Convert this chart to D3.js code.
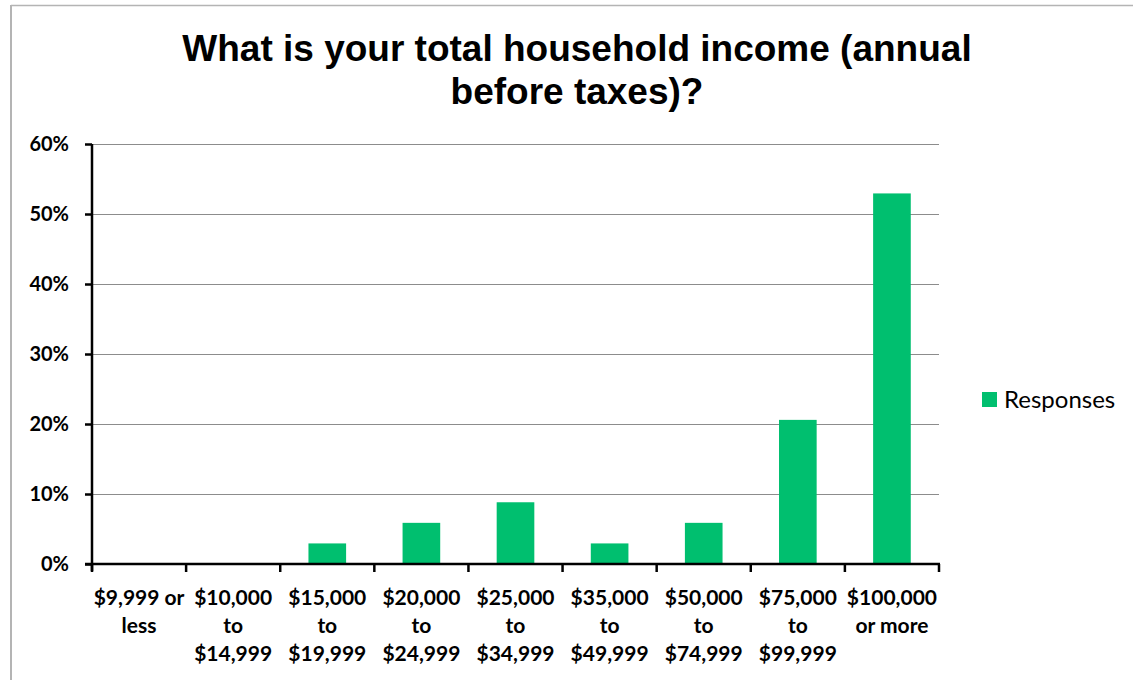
<!DOCTYPE html>
<html>
<head>
<meta charset="utf-8">
<script src="https://cdn.jsdelivr.net/npm/d3@7"></script>
<style>
  html, body { margin: 0; padding: 0; background: #ffffff; }
  svg { display: block; }
</style>
</head>
<body>
<svg id="chart" width="1133" height="680"></svg>
<script>
// Household income survey: share of responses per income bracket
const titleLines = ["What is your total household income (annual", "before taxes)?"];
const categories = [
  "$9,999 or less",
  "$10,000 to $14,999",
  "$15,000 to $19,999",
  "$20,000 to $24,999",
  "$25,000 to $34,999",
  "$35,000 to $49,999",
  "$50,000 to $74,999",
  "$75,000 to $99,999",
  "$100,000 or more"
];
const responses = [0, 0, 0.0294, 0.0588, 0.0882, 0.0294, 0.0588, 0.2059, 0.5294];
const yTicks = [0, 0.1, 0.2, 0.3, 0.4, 0.5, 0.6];
const seriesName = "Responses";

const svg = d3.select("#chart");
const W = 1133, H = 680;
const plot = { left: 92, right: 939, top: 144, bottom: 564 };
const barColor = "#00bf6f";
const labelFont = "Lato, 'Open Sans', sans-serif";
const catFontSize = 21;

svg.append("rect").attr("width", W).attr("height", H).attr("fill", "#ffffff");

// outer chart frame (only the top and left edges fall inside the view)
svg.append("line").attr("x1", 11).attr("x2", W).attr("y1", 5.5).attr("y2", 5.5)
  .attr("stroke", "#b4b4b4").attr("stroke-width", 1.5);
svg.append("line").attr("x1", 11).attr("x2", 11).attr("y1", 5).attr("y2", H)
  .attr("stroke", "#b4b4b4").attr("stroke-width", 2);

// title
svg.append("text")
  .attr("x", 577).attr("y", 61)
  .attr("text-anchor", "middle")
  .attr("font-family", "'Liberation Sans', Arial, sans-serif")
  .attr("font-weight", "bold")
  .attr("font-size", 37)
  .attr("fill", "#000")
  .selectAll("tspan").data(titleLines).join("tspan")
  .attr("x", 577).attr("dy", (d, i) => i === 0 ? 0 : 43)
  .text(d => d);

// scales
const x = d3.scaleBand().domain(categories)
  .range([plot.left, plot.right]).paddingInner(0.6).paddingOuter(0.3);
const y = d3.scaleLinear().domain([0, 0.6]).range([plot.bottom, plot.top]);

// gridlines
svg.append("g").selectAll("line").data(yTicks.filter(t => t > 0)).join("line")
  .attr("x1", plot.left).attr("x2", plot.right)
  .attr("y1", d => y(d) + 0.5).attr("y2", d => y(d) + 0.5)
  .attr("stroke", "#8c8c8c").attr("stroke-width", 1);

// bars
svg.append("g").selectAll("rect").data(categories).join("rect")
  .attr("x", d => x(d))
  .attr("width", x.bandwidth())
  .attr("y", (d, i) => y(responses[i]))
  .attr("height", (d, i) => y(0) - y(responses[i]))
  .attr("fill", barColor);

// y axis
const yAxis = svg.append("g")
  .attr("transform", `translate(${plot.left},0)`)
  .call(d3.axisLeft(y).tickValues(yTicks).tickFormat(d3.format(".0%")).tickSize(7).tickPadding(16));
yAxis.select(".domain").attr("stroke", "#000").attr("stroke-width", 2.5)
  .attr("d", `M0,${plot.top}V${plot.bottom + 7}`);
yAxis.selectAll(".tick line").attr("stroke", "#000").attr("stroke-width", 2.5);
yAxis.selectAll(".tick text")
  .attr("font-family", labelFont).attr("font-weight", "bold")
  .attr("font-size", 20).attr("fill", "#000");

// x axis with ticks at category boundaries
const step = x.step();
const boundaries = d3.range(categories.length + 1).map(i => plot.left + i * step);
const xAxis = svg.append("g");
xAxis.append("line")
  .attr("x1", plot.left - 7).attr("x2", plot.right + 1)
  .attr("y1", plot.bottom).attr("y2", plot.bottom)
  .attr("stroke", "#000").attr("stroke-width", 2.5);
xAxis.selectAll("line.tk").data(boundaries).join("line").attr("class", "tk")
  .attr("x1", d => d).attr("x2", d => d)
  .attr("y1", plot.bottom).attr("y2", plot.bottom + 8)
  .attr("stroke", "#000").attr("stroke-width", 2.5);

// wrapped category labels
const measure = svg.append("text")
  .attr("font-family", labelFont).attr("font-weight", "bold").attr("font-size", catFontSize)
  .attr("visibility", "hidden");
function wrapLines(str, maxW) {
  const words = str.split(" ");
  const lines = [];
  let cur = "";
  words.forEach(w => {
    const test = cur ? cur + " " + w : w;
    measure.text(test);
    if (cur && measure.node().getComputedTextLength() > maxW) {
      lines.push(cur);
      cur = w;
    } else {
      cur = test;
    }
  });
  if (cur) lines.push(cur);
  return lines;
}
const xLabels = svg.append("g").selectAll("text").data(categories).join("text")
  .attr("text-anchor", "middle")
  .attr("font-family", labelFont).attr("font-weight", "bold")
  .attr("font-size", catFontSize).attr("fill", "#000")
  .attr("y", 605);
xLabels.each(function (d) {
  const cx = x(d) + x.bandwidth() / 2;
  d3.select(this).selectAll("tspan").data(wrapLines(d, 95)).join("tspan")
    .attr("x", cx).attr("dy", (t, i) => i === 0 ? 0 : 28)
    .text(t => t);
});
measure.remove();

// legend
const legend = svg.append("g").attr("transform", "translate(982,392)");
legend.append("rect").attr("width", 15).attr("height", 15).attr("fill", barColor);
legend.append("text").attr("x", 22).attr("y", 16)
  .attr("font-family", labelFont).attr("font-size", 24).attr("fill", "#000")
  .text(seriesName);
</script>
</body>
</html>
